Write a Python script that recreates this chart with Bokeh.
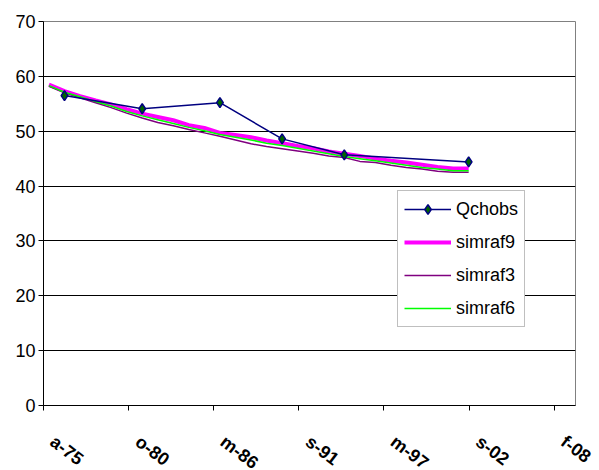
from bokeh.plotting import figure
from bokeh.models import FixedTicker, Range1d, Legend, LegendItem, ColumnDataSource
from bokeh.core.properties import value
from bokeh.embed import file_html
from bokeh.resources import INLINE

# ---- data ----
axis_start_year = 1975.25          # a-75 tick (axis minimum)
tick_step_days = 2000              # Excel-style major unit
tick_labels = ["a-75", "o-80", "m-86", "s-91", "m-97", "s-02", "f-08"]

obs_years = [1976.6, 1981.6, 1986.6, 1990.6, 1994.6, 2002.6]
qchobs = [56.5, 54.1, 55.2, 48.6, 45.7, 44.4]

sim_years = [1975.6, 1976.6, 1977.6, 1978.6, 1979.6, 1980.6, 1981.6, 1982.6,
             1983.6, 1984.6, 1985.6, 1986.6, 1987.6, 1988.6, 1989.6, 1990.6,
             1991.6, 1992.6, 1993.6, 1994.6, 1995.6, 1996.6, 1997.6, 1998.6,
             1999.6, 2000.6, 2001.6, 2002.6]
simraf9 = [58.5, 57.3, 56.4, 55.6, 54.9, 54.0, 53.2, 52.6, 52.0, 51.1, 50.6, 49.7,
           49.3, 48.9, 48.3, 47.8, 47.3, 46.9, 46.3, 45.9, 45.5, 45.0, 44.6, 44.3,
           43.9, 43.5, 43.2, 43.2]
simraf3 = [58.2, 57.0, 56.1, 55.2, 54.3, 53.3, 52.4, 51.6, 51.0, 50.3, 49.7, 49.1,
           48.4, 47.7, 47.2, 46.8, 46.4, 46.0, 45.5, 45.2, 44.5, 44.3, 43.8, 43.4,
           43.1, 42.7, 42.5, 42.5]
simraf6 = [58.3, 57.1, 56.3, 55.4, 54.6, 53.6, 52.8, 52.1, 51.4, 50.7, 50.1, 49.4,
           48.9, 48.4, 47.8, 47.4, 46.9, 46.4, 45.9, 45.4, 45.0, 44.6, 44.2, 43.8,
           43.4, 43.1, 42.8, 42.8]
y_ticks = [0, 10, 20, 30, 40, 50, 60, 70]


def to_days(years):
    return [(y - axis_start_year) * 365.25 for y in years]


x_ticks = [i * tick_step_days for i in range(len(tick_labels))]
x_end = 12500

FONT = "Liberation Sans"

# ---- layout geometry (pixels) ----
W = 590
W_LAB = 599
LEFT, RIGHT, TOP, BOTTOM = 43, 15, 21, 10
MAIN_H = 415          # frame bottom (x axis) at 405
LAB_H = 55            # strip under the chart holding the rotated tick labels
FRAME_W = W - LEFT - RIGHT

p = figure(width=W, height=MAIN_H, output_backend="svg", toolbar_location=None,
           x_range=Range1d(0, x_end), y_range=Range1d(0, 70),
           min_border_left=LEFT, min_border_right=RIGHT, min_border_top=TOP,
           min_border_bottom=BOTTOM)
p.background_fill_color = "white"
p.border_fill_color = "white"
p.outline_line_color = "#808080"
p.outline_line_width = 1

# grid
p.xgrid.visible = False
p.ygrid.grid_line_color = "black"
p.ygrid.grid_line_width = 1
p.ygrid.ticker = FixedTicker(ticks=y_ticks)

# y axis
p.yaxis.ticker = FixedTicker(ticks=y_ticks)
p.yaxis.axis_line_color = "black"
p.yaxis.major_tick_line_color = "black"
p.yaxis.major_tick_out = 5
p.yaxis.major_tick_in = 0
p.yaxis.minor_tick_line_color = None
p.yaxis.major_label_text_font = FONT
p.yaxis.major_label_text_font_size = "18px"
p.yaxis.major_label_text_color = "black"
p.yaxis.major_label_standoff = 3

# x axis: ticks only here, labels drawn in the strip below
p.xaxis.ticker = FixedTicker(ticks=x_ticks)
p.xaxis.major_label_overrides = {t: "" for t in x_ticks}
p.xaxis.major_label_text_font_size = "0px"
p.xaxis.major_label_standoff = 0
p.xaxis.axis_line_color = "black"
p.xaxis.major_tick_line_color = "black"
p.xaxis.major_tick_out = 5
p.xaxis.major_tick_in = 0
p.xaxis.minor_tick_line_color = None

# series
r9 = p.line(to_days(sim_years), simraf9, line_color="#FF00FF", line_width=4)
r3 = p.line(to_days(sim_years), simraf3, line_color="#800080", line_width=1.5)
r6 = p.line(to_days(sim_years), simraf6, line_color="#00FF00", line_width=1.5)
ro = p.line(to_days(obs_years), qchobs, line_color="#000080", line_width=1.5)
rm = p.scatter(to_days(obs_years), qchobs, marker="diamond", size=10,
               fill_color="#006400", line_color="#000080", line_width=1.5)

legend = Legend(items=[
    LegendItem(label="Qchobs", renderers=[ro, rm]),
    LegendItem(label="simraf9", renderers=[r9]),
    LegendItem(label="simraf3", renderers=[r3]),
    LegendItem(label="simraf6", renderers=[r6]),
], location=(354, 78))
legend.border_line_color = "#808080"
legend.border_line_width = 1
legend.background_fill_color = "white"
legend.background_fill_alpha = 1
legend.label_text_font = FONT
legend.label_text_font_size = "18px"
legend.label_text_color = "black"
legend.padding = 6
legend.spacing = 9
legend.glyph_width = 47
legend.glyph_height = 24
legend.label_height = 24
legend.label_standoff = 5
legend.margin = 0
p.add_layout(legend, "center")

# ---- strip with the rotated x tick labels, on the same horizontal scale ----
days_per_px = x_end / FRAME_W
lab_range = Range1d(-LEFT * days_per_px, (W_LAB - LEFT) * days_per_px)
q = figure(width=W_LAB, height=LAB_H, output_backend="svg", toolbar_location=None,
           x_range=lab_range, y_range=Range1d(0, LAB_H),
           x_axis_location=None, y_axis_location=None, min_border=0)
q.grid.visible = False
q.outline_line_color = None
q.background_fill_color = "white"
q.border_fill_color = "white"
lab_src = ColumnDataSource(dict(x=x_ticks, y=[LAB_H - 24] * len(x_ticks),
                                text=tick_labels))
q.text(x="x", y="y", text="text", source=lab_src, angle=-0.65,
       x_offset=9, text_align="left", text_baseline="middle",
       text_font=value(FONT), text_font_size="18px", text_font_style="bold",
       text_color="black")

# two separate roots stacked vertically (no frame alignment between them)
open("out.html", "w").write(file_html([p, q], INLINE))
